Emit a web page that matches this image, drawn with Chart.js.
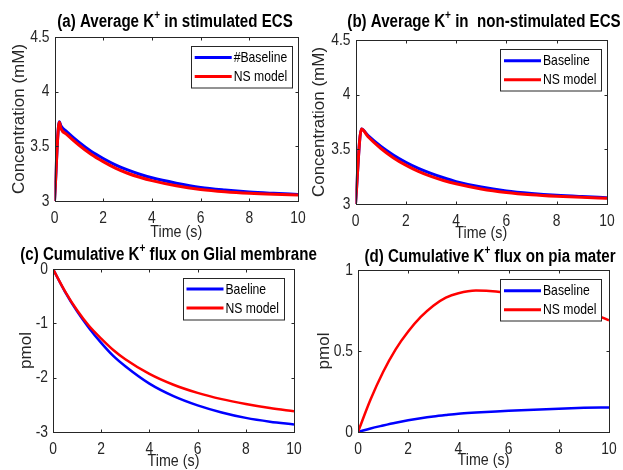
<!DOCTYPE html>
<html>
<head>
<meta charset="utf-8">
<script src="https://cdn.jsdelivr.net/npm/chart.js@4.4.1/dist/chart.umd.min.js"></script>
<style>
  body { margin: 0; background: #fff; }
  canvas { position: absolute; left: 0; top: 0; }
</style>
</head>
<body>
<canvas id="pa" width="623" height="470"></canvas>
<canvas id="pb" width="623" height="470"></canvas>
<canvas id="pc" width="623" height="470"></canvas>
<canvas id="pd" width="623" height="470"></canvas>
<script>
// time axis shared by all panels
const xTicks = [0, 2, 4, 6, 8, 10];
const xLabels = ['0', '2', '4', '6', '8', '10'];

// (a) stimulated ECS
const timeA = [0, 0.2, 0.27, 0.5, 1, 1.5, 2, 2.5, 3, 3.5, 4, 5, 6, 7, 8, 9, 10];
const baseA = [3.0, 3.725, 3.685, 3.634, 3.537, 3.455, 3.389, 3.331, 3.284, 3.245, 3.212, 3.163, 3.124, 3.100, 3.082, 3.070, 3.060];
const nsA   = [3.0, 3.72, 3.66, 3.61, 3.512, 3.428, 3.360, 3.301, 3.254, 3.217, 3.186, 3.139, 3.106, 3.085, 3.071, 3.062, 3.056];

// (b) non-stimulated ECS
const timeB = [0, 0.235, 0.5, 1, 1.5, 2, 2.5, 3, 3.5, 4, 5, 6, 7, 8, 9, 10];
const baseB = [3.0, 3.685, 3.626, 3.529, 3.449, 3.382, 3.326, 3.280, 3.240, 3.205, 3.155, 3.120, 3.097, 3.080, 3.068, 3.058];
const nsB   = [3.0, 3.685, 3.615, 3.510, 3.424, 3.355, 3.298, 3.252, 3.215, 3.185, 3.138, 3.106, 3.085, 3.071, 3.061, 3.053];

// (c) glial membrane flux
const timeC = [0, 0.5, 1, 1.5, 2, 2.5, 3, 4, 5, 6, 7, 8, 9, 10];
const baseC = [0, -0.42, -0.78, -1.09, -1.36, -1.60, -1.79, -2.11, -2.34, -2.51, -2.64, -2.74, -2.81, -2.86];
const nsC   = [0, -0.41, -0.76, -1.05, -1.28, -1.49, -1.66, -1.93, -2.13, -2.28, -2.395, -2.485, -2.56, -2.62];

// (d) pia mater flux
const timeD = [0, 0.5, 1, 1.5, 2, 2.5, 3, 3.5, 4, 4.7, 5.5, 6, 7, 8, 9, 10];
const baseD = [0, 0.022, 0.040, 0.057, 0.072, 0.085, 0.096, 0.105, 0.113, 0.120, 0.127, 0.131, 0.138, 0.144, 0.149, 0.152];
const nsD   = [0, 0.20, 0.37, 0.51, 0.62, 0.71, 0.78, 0.83, 0.857, 0.873, 0.868, 0.858, 0.835, 0.80, 0.75, 0.69];

const yTicksK = [3, 3.5, 4, 4.5];
const yLabelsK = ['3', '3.5', '4', '4.5'];
const yTicksC = [-3, -2, -1, 0];
const yLabelsC = ['-3', '-2', '-1', '0'];
const yTicksD = [0, 0.5, 1];
const yLabelsD = ['0', '0.5', '1'];

const SANS = '"Liberation Sans", Arial, sans-serif';
const INK = '#262626';
const SQUEEZE = 0.84; // the source figure was squashed sideways

// draw text narrowed horizontally, returns drawn width
function narrowText(ctx, s, x, y) {
  ctx.save();
  ctx.translate(x, y);
  ctx.scale(SQUEEZE, 1);
  ctx.fillText(s, 0, 0);
  ctx.restore();
  return ctx.measureText(s).width * SQUEEZE;
}

// matlab style: full box, inward ticks, tick labels, title with superscript, boxed legend
const matlabLook = {
  id: 'matlabLook',
  afterDatasetsDraw(chart, args, o) {
    const { ctx, chartArea: a, scales } = chart;
    const xs = scales.x, ys = scales.y;
    ctx.save();
    ctx.strokeStyle = INK;
    ctx.lineWidth = 1;
    const L = Math.round(a.left) + 0.5, R = Math.round(a.right) + 0.5;
    const T = Math.round(a.top) + 0.5, B = Math.round(a.bottom) + 0.5;
    ctx.strokeRect(L, T, R - L, B - T);
    const tl = 3;
    ctx.beginPath();
    xs.ticks.forEach(t => {
      const px = Math.round(xs.getPixelForValue(t.value)) + 0.5;
      ctx.moveTo(px, B); ctx.lineTo(px, B - tl);
      ctx.moveTo(px, T); ctx.lineTo(px, T + tl);
    });
    ys.ticks.forEach(t => {
      const py = Math.round(ys.getPixelForValue(t.value)) + 0.5;
      ctx.moveTo(L, py); ctx.lineTo(L + tl, py);
      ctx.moveTo(R, py); ctx.lineTo(R - tl, py);
    });
    ctx.stroke();

    // tick labels and x title
    ctx.fillStyle = INK;
    ctx.font = '16.5px ' + SANS;
    ctx.textBaseline = 'middle';
    xs.ticks.forEach((t, i) => {
      const w = ctx.measureText(xLabels[i]).width * SQUEEZE;
      narrowText(ctx, xLabels[i], xs.getPixelForValue(t.value) - w / 2, a.bottom + 17.5);
    });
    ys.ticks.forEach((t, i) => {
      const w = ctx.measureText(o.yLabels[i]).width * SQUEEZE;
      narrowText(ctx, o.yLabels[i], a.left - 5 - w, ys.getPixelForValue(t.value));
    });
    ctx.font = '17px ' + SANS;
    const tw = ctx.measureText('Time (s)').width * SQUEEZE;
    narrowText(ctx, 'Time (s)', (a.left + a.right) / 2 - tw / 2, o.xtY);

    // legend
    const lg = o.legend;
    ctx.fillStyle = '#fff';
    ctx.fillRect(lg.x, lg.y, 101, 41.5);
    ctx.strokeRect(Math.round(lg.x) + 0.5, Math.round(lg.y) + 0.5, 101, 41.5);
    ctx.font = '14.5px ' + SANS;
    chart.data.datasets.forEach((ds, i) => {
      const ry = lg.y + 11.5 + i * 19;
      ctx.strokeStyle = ds.borderColor;
      ctx.lineWidth = 3;
      ctx.beginPath();
      ctx.moveTo(lg.x + 4, ry); ctx.lineTo(lg.x + 41, ry);
      ctx.stroke();
      ctx.fillStyle = '#000';
      narrowText(ctx, ds.label, lg.x + 43, ry + 0.5);
    });

    // title
    const [pre, sup, post] = o.title;
    const big = 'bold 18px ' + SANS, small = 'bold 12px ' + SANS;
    ctx.font = big; const w1 = ctx.measureText(pre).width, w3 = ctx.measureText(post).width;
    ctx.font = small; const w2 = ctx.measureText(sup).width;
    let x = o.titleX - (w1 + w2 + w3) * SQUEEZE / 2;
    ctx.fillStyle = '#000';
    ctx.textBaseline = 'alphabetic';
    ctx.font = big; x += narrowText(ctx, pre, x, o.titleY);
    ctx.font = small; x += narrowText(ctx, sup, x, o.titleY - 8);
    ctx.font = big; narrowText(ctx, post, x, o.titleY);
    ctx.restore();
  }
};

function panel(id, p) {
  const series = (t, v) => t.map((x, i) => ({ x: x, y: v[i] }));
  return new Chart(document.getElementById(id), {
    type: 'line',
    data: {
      datasets: [
        { label: p.names[0], data: series(p.t, p.base), borderColor: '#0000ff', borderWidth: p.lw,
          pointRadius: 0, cubicInterpolationMode: 'monotone', order: 2 },
        { label: p.names[1], data: series(p.t, p.ns), borderColor: '#ff0000', borderWidth: p.lw,
          pointRadius: 0, cubicInterpolationMode: 'monotone', order: 1 }
      ]
    },
    options: {
      responsive: false,
      animation: false,
      devicePixelRatio: 1,
      layout: { padding: { left: p.x0 - 50, right: 623 - p.x1, top: p.y0, bottom: 470 - p.y1 - 38 } },
      plugins: {
        legend: { display: false },
        tooltip: { enabled: false },
        matlabLook: { legend: p.legend, title: p.title, titleX: p.titleX, titleY: p.titleY,
                      yLabels: p.yLabels, xtY: p.xtY }
      },
      scales: {
        x: {
          type: 'linear', min: 0, max: 10,
          afterFit: s => { s.height = 38; },
          afterBuildTicks: s => { s.ticks = xTicks.map(v => ({ value: v })); },
          grid: { display: false, drawTicks: false }, border: { display: false },
          ticks: { display: false }
        },
        y: {
          type: 'linear', min: p.yTicks[0], max: p.yTicks[p.yTicks.length - 1],
          afterFit: s => { s.width = 50; },
          afterBuildTicks: s => { s.ticks = p.yTicks.map(v => ({ value: v })); },
          grid: { display: false, drawTicks: false }, border: { display: false },
          ticks: { display: false },
          title: { display: true, text: p.ylabel, color: INK, font: { family: SANS, size: 17 },
                   padding: { top: p.ytPad, bottom: 0 } }
        }
      }
    },
    plugins: [matlabLook]
  });
}

panel('pa', {
  t: timeA, base: baseA, ns: nsA, names: ['#Baseline', 'NS model'], lw: 3,
  x0: 54.5, x1: 298, y0: 37, y1: 201, xtY: 232, ytPad: 4.3,
  yTicks: yTicksK, yLabels: yLabelsK, ylabel: 'Concentration (mM)',
  legend: { x: 190.7, y: 46 },
  title: ['(a) Average K', '+', ' in stimulated ECS'], titleX: 175, titleY: 27
});
panel('pb', {
  t: timeB, base: baseB, ns: nsB, names: ['Baseline', 'NS model'], lw: 3,
  x0: 355.5, x1: 607, y0: 40, y1: 204, xtY: 233.5, ytPad: 3.3,
  yTicks: yTicksK, yLabels: yLabelsK, ylabel: 'Concentration (mM)',
  legend: { x: 500, y: 49.3 },
  title: ['(b) Average K', '+', ' in  non-stimulated ECS'], titleX: 484, titleY: 27.3
});
panel('pc', {
  t: timeC, base: baseC, ns: nsC, names: ['Baeline', 'NS model'], lw: 2.5,
  x0: 53, x1: 294, y0: 269, y1: 432, xtY: 461, ytPad: 12.8,
  yTicks: yTicksC, yLabels: yLabelsC, ylabel: 'pmol',
  legend: { x: 182.5, y: 277.5 },
  title: ['(c) Cumulative K', '+', ' flux on Glial membrane'], titleX: 168.5, titleY: 260
});
panel('pd', {
  t: timeD, base: baseD, ns: nsD, names: ['Baseline', 'NS model'], lw: 2.5,
  x0: 358, x1: 609, y0: 270, y1: 432, xtY: 460, ytPad: 5.8,
  yTicks: yTicksD, yLabels: yLabelsD, ylabel: 'pmol',
  legend: { x: 500, y: 279.3 },
  title: ['(d) Cumulative K', '+', ' flux on pia mater'], titleX: 490, titleY: 261.5
});
</script>
</body>
</html>
